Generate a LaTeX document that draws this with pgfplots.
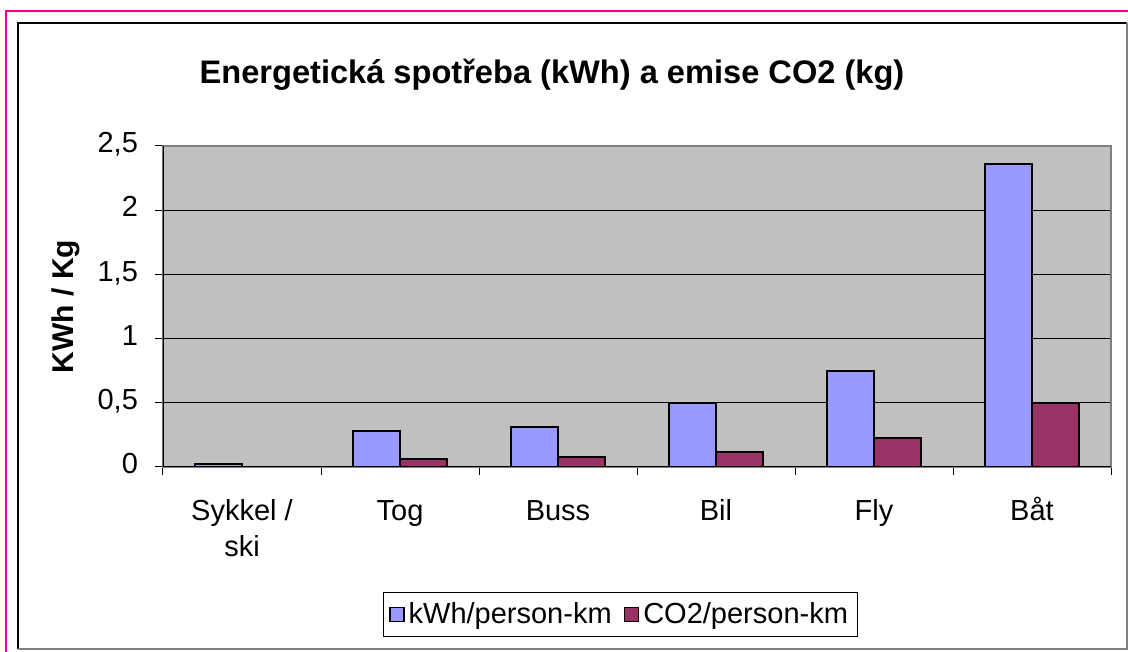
\documentclass[border=0pt]{standalone}
\usepackage{pgfplots}
\pgfplotsset{compat=1.18}
\usepackage{fontspec}
\setmainfont{Liberation Sans}
\definecolor{barblue}{HTML}{9999FF}
\definecolor{barred}{HTML}{993366}
\definecolor{plotgray}{HTML}{C0C0C0}
\pgfplotsset{sqlegend/.style={legend image code/.code={\draw[##1, line width=0.8pt] (0pt,-3.5pt) rectangle (7pt,3.5pt);}}}
\begin{document}
\begin{tikzpicture}
\useasboundingbox (0,0) rectangle (564pt,326pt);
\fill[white] (0,0) rectangle (564pt,326pt);
\draw[magenta, line width=1pt] (3pt,0) -- (3pt,320.5pt) -- (564pt,320.5pt);
\draw[black, line width=0.6pt] (9pt,1.5pt) -- (9pt,314.5pt) -- (563.5pt,314.5pt);
\draw[gray, line width=0.8pt] (563.5pt,314.5pt) -- (563.5pt,1.5pt) -- (9pt,1.5pt);
\node[font=\bfseries\fontsize{16.3}{19}\selectfont] at (276pt,288.5pt) {Energetická spotřeba (kWh) a emise CO2 (kg)};
\begin{axis}[
  at={(81.5pt,92.5pt)}, anchor=south west,
  width=474pt, height=160.5pt, scale only axis,
  xmin=-0.5, xmax=5.5, ymin=0, ymax=2.5,
  ybar=0pt, bar width=23.5pt,
  axis background/.style={fill=plotgray},
  axis line style={draw=gray, line width=0.6pt},
  /pgf/number format/assume math mode=true,
  /pgf/number format/use comma,
  /pgf/number format/fixed,
  xtick={0,...,5},
  xticklabels={{Sykkel /\\ski},Tog,Buss,Bil,Fly,Båt},
  typeset ticklabels with strut,
  major x tick style={draw=none},
  minor xtick={-0.5,0.5,1.5,2.5,3.5,4.5,5.5},
  minor x tick style={black, line width=0.5pt},
  minor tick length=4pt,
  major tick length=4pt,
  tick align=outside, tick pos=left,
  ytick={0,0.5,1,1.5,2,2.5},
  y tick style={black, line width=0.5pt},
  y tick label style={font=\fontsize{14.5}{17}\selectfont, xshift=-5pt},
  x tick label style={align=center, font=\fontsize{14.5}{18}\selectfont, yshift=-6.8pt},
  ymajorgrids, grid style={black, line width=0.5pt},
  ylabel={KWh / Kg},
  ylabel style={font=\bfseries\fontsize{15}{18}\selectfont, at={(axis description cs:-0.1023,0.5)}, anchor=center},
  legend columns=2,
  legend style={at={(axis description cs:0.4826,-0.4595)}, anchor=center, draw=black, line width=0.5pt,
    font=\fontsize{14.5}{17}\selectfont, inner xsep=3pt, inner ysep=3pt,
    /tikz/every even column/.append style={column sep=4pt}},
]
\addplot[fill=barblue, draw=black, line width=1pt, sqlegend]
  coordinates {(0,0.02) (1,0.28) (2,0.31) (3,0.5) (4,0.75) (5,2.36)};
\addplot[fill=barred, draw=black, line width=1pt, sqlegend]
  coordinates {(1,0.065) (2,0.075) (3,0.115) (4,0.225) (5,0.5)};
\legend{kWh/person-km,CO2/person-km}
\draw[black, line width=0.6pt] (rel axis cs:0,1) -- (rel axis cs:0,0) -- (rel axis cs:1,0);
\end{axis}
\end{tikzpicture}
\end{document}
